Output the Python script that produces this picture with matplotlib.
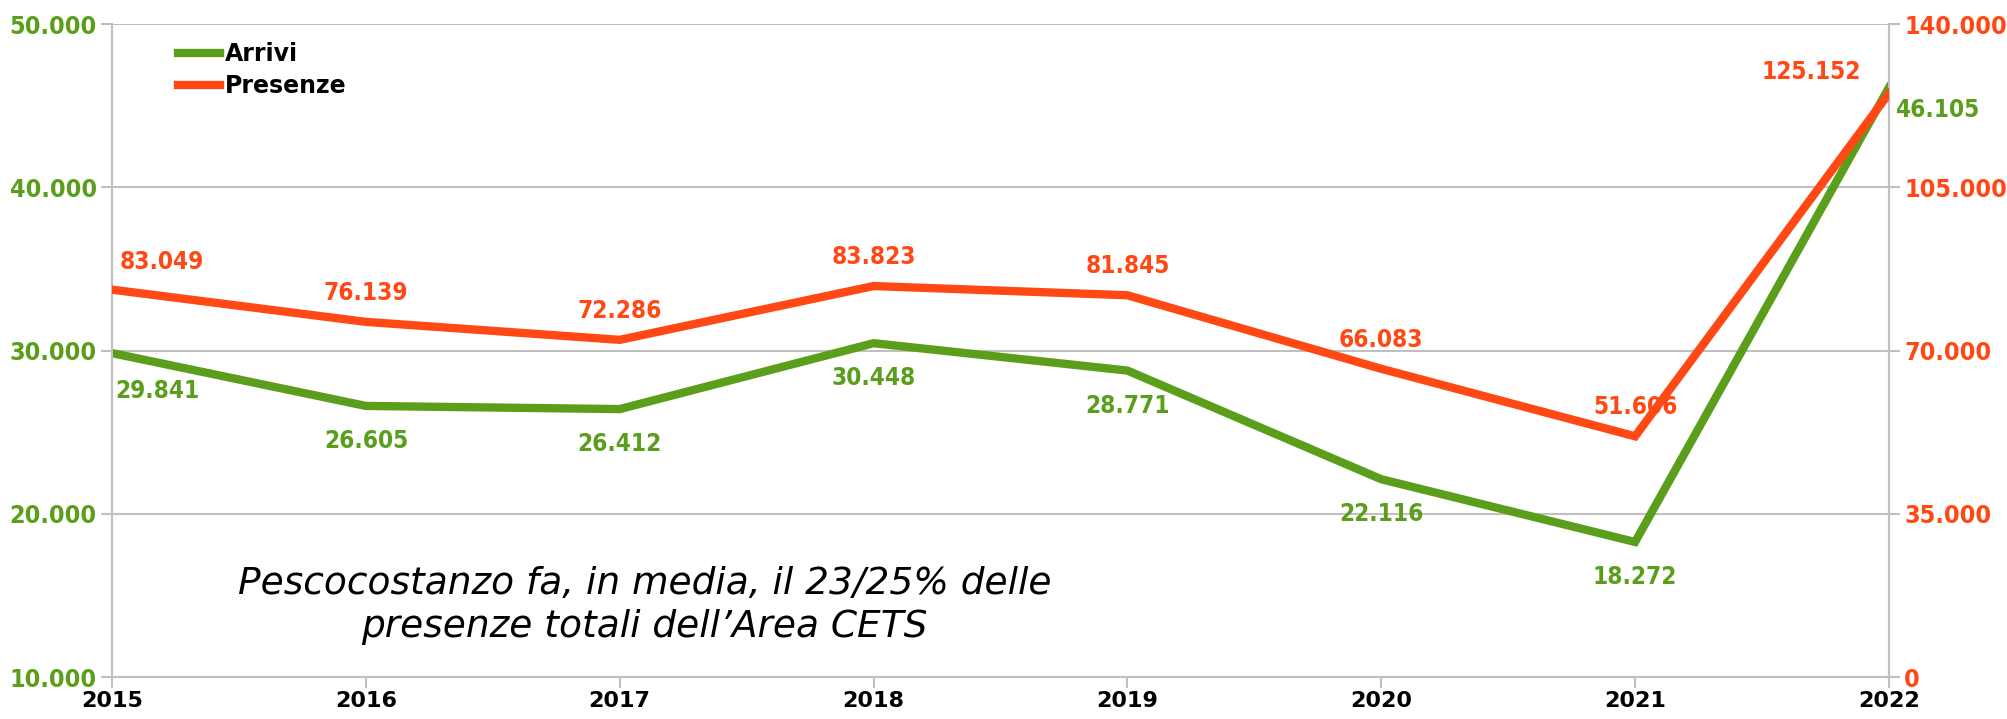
import numpy as np
import matplotlib
matplotlib.use("Agg")
import matplotlib.pyplot as plt
from matplotlib.ticker import FuncFormatter

years = [2015, 2016, 2017, 2018, 2019, 2020, 2021, 2022]
arrivi = [29841, 26605, 26412, 30448, 28771, 22116, 18272, 46105]
presenze = [83049, 76139, 72286, 83823, 81845, 66083, 51606, 125152]

green = '#5a9e1c'
orange = '#ff4814'
grid_c = '#c0c0c0'


def fmt(v):
    return '{:,.0f}'.format(v).replace(',', '.')


fig = plt.figure(figsize=(20.08, 7.19), dpi=100)
ax = fig.add_axes([0.0558, 0.0584, 0.8849, 0.9082])
ax2 = ax.twinx()

x = np.arange(len(years))
ax.plot(x, arrivi, color=green, lw=6, solid_joinstyle='miter', zorder=3, label='Arrivi')
ax2.plot(x, presenze, color=orange, lw=6, solid_joinstyle='miter', zorder=3, label='Presenze')

ax.set_xlim(0, len(years) - 1)
ax.set_ylim(10000, 50000)
ax2.set_ylim(0, 140000)
ax.set_yticks(np.arange(10000, 50001, 10000))
ax2.set_yticks(np.arange(0, 140001, 35000))
ax.set_xticks(x)
ax.set_xticklabels([str(y) for y in years], fontsize=16, fontweight='bold')
ax.yaxis.set_major_formatter(FuncFormatter(lambda v, p: fmt(v)))
ax2.yaxis.set_major_formatter(FuncFormatter(lambda v, p: fmt(v)))
ax.grid(axis='y', color=grid_c, lw=1.5, zorder=0)
ax.set_axisbelow(True)

for a in (ax, ax2):
    for s in a.spines.values():
        s.set_color(grid_c)
        s.set_linewidth(1.5)
    a.spines['top'].set_visible(False)
    a.tick_params(colors=grid_c, width=1.5, length=8)
ax.tick_params(axis='y', labelcolor=green, labelsize=18, pad=3)
ax2.tick_params(axis='y', labelcolor=orange, labelsize=18, pad=3)
ax.tick_params(axis='x', labelcolor='black', pad=2)
for lab in ax.get_yticklabels() + ax2.get_yticklabels():
    lab.set_fontweight('semibold')
    lab.set_fontstretch('condensed')

# data labels
lab_kw = dict(fontsize=17.5, fontweight='semibold', fontstretch='condensed', ha='center', va='center')
for i, (a, p) in enumerate(zip(arrivi, presenze)):
    if i == 0:
        ax.annotate(fmt(a), (i, a), xytext=(45, -38), textcoords='offset pixels', color=green, **lab_kw)
        ax2.annotate(fmt(p), (i, p), xytext=(50, 28), textcoords='offset pixels', color=orange, **lab_kw)
    elif i == len(years) - 1:
        ax.annotate(fmt(a), (i, a), xytext=(48, -22), textcoords='offset pixels', color=green, **lab_kw)
        ax2.annotate(fmt(p), (i, p), xytext=(-78, 21), textcoords='offset pixels', color=orange, **lab_kw)
    else:
        ax.annotate(fmt(a), (i, a), xytext=(0, -35), textcoords='offset pixels', color=green, **lab_kw)
        ax2.annotate(fmt(p), (i, p), xytext=(0, 29), textcoords='offset pixels', color=orange, **lab_kw)

h1, l1 = ax.get_legend_handles_labels()
h2, l2 = ax2.get_legend_handles_labels()
ax2.legend(h1 + h2, l1 + l2, loc='upper left', bbox_to_anchor=(0.025, 1.005), frameon=False,
           prop={'size': 17, 'weight': 'bold'}, handlelength=1.8, handletextpad=0.2,
           labelspacing=0.35)

fig.text(0.321, 0.158, "Pescocostanzo fa, in media, il 23/25% delle\npresenze totali dell\u2019Area CETS",
         fontsize=27, fontstyle='italic', ha='center', va='center',
         linespacing=1.25)

fig.savefig('out.png', dpi=100)
